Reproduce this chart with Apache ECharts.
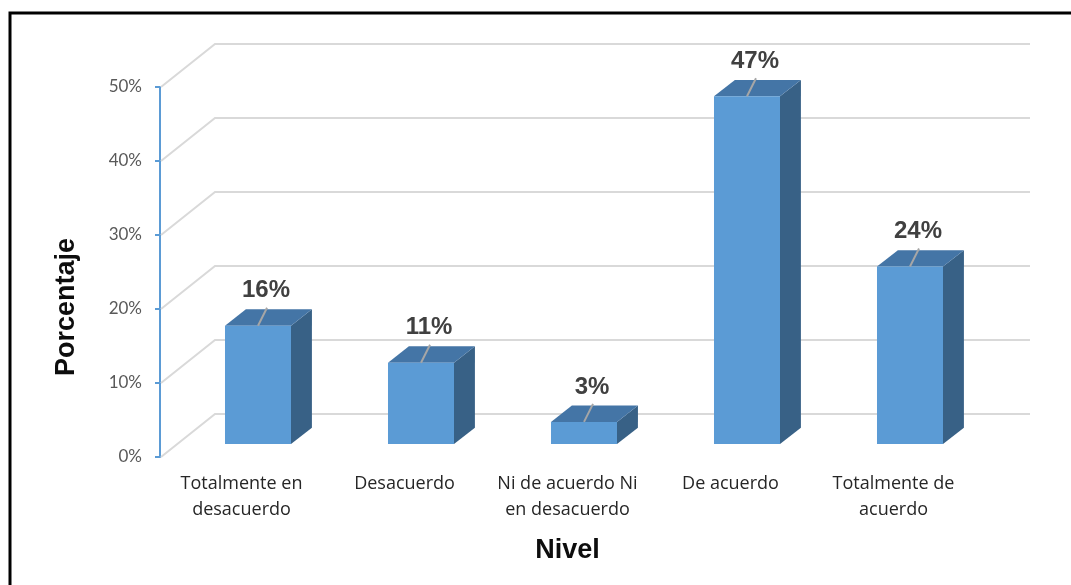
<!DOCTYPE html>
<html>
<head>
<meta charset="utf-8">
<script src="https://cdn.jsdelivr.net/npm/echarts@6/dist/echarts.min.js"></script>
<style>
  html, body { margin: 0; padding: 0; background: #fff; }
  #chart { width: 1071px; height: 585px; }
</style>
</head>
<body>
<div id="chart"></div>
<script>
// Survey response levels and their share of respondents (%)
const categories = [
  'Totalmente en\ndesacuerdo',
  'Desacuerdo',
  'Ni de acuerdo Ni\nen desacuerdo',
  'De acuerdo',
  'Totalmente de\nacuerdo'
];
const percentages = [16, 11, 3, 47, 24];
const gridTicks = [0, 10, 20, 30, 40, 50];

// Oblique 3D look: offset of the back wall and of each column's depth
const WALL_DX = 55, WALL_DY = 43;
const BAR_FRONT = 0.30;   // front face position as a fraction of the wall depth
const BAR_DEPTH = 0.38;   // column depth as a fraction of the wall depth
const BAR_WIDTH = 0.405;  // fraction of a category band

const COLOR_FRONT = '#5b9bd5';
const COLOR_TOP = '#4475a6';
const COLOR_SIDE = '#386186';

const BOLD_FONT = '"Liberation Sans", Arial, sans-serif';

const chart = echarts.init(document.getElementById('chart'));

function renderWall(params, api) {
  const cs = params.coordSys;
  const y = api.coord([0, api.value(0)])[1];
  const x0 = cs.x;
  const x1 = cs.x + cs.width;
  return {
    type: 'polyline',
    shape: { points: [[x0 + 1, y], [x0 + WALL_DX, y - WALL_DY], [x1 + WALL_DX, y - WALL_DY]] },
    style: { stroke: '#d9d9d9', lineWidth: 2, fill: null },
    silent: true
  };
}

function renderColumn(params, api) {
  const idx = api.value(0);
  const val = api.value(1);
  const base = api.coord([idx, 0]);
  const top = api.coord([idx, val]);
  const band = api.size([1, 0])[0];
  const w = band * BAR_WIDTH;
  const fx = WALL_DX * BAR_FRONT, fy = WALL_DY * BAR_FRONT;
  const dx = WALL_DX * BAR_DEPTH, dy = WALL_DY * BAR_DEPTH;
  const cx = base[0] + fx;
  const l = cx - w / 2, r = cx + w / 2;
  const by = base[1] - fy, ty = top[1] - fy;
  return {
    type: 'group',
    children: [
      { type: 'polygon', shape: { points: [[r, ty], [r + dx, ty - dy], [r + dx, by - dy], [r, by]] },
        style: { fill: COLOR_SIDE } },
      { type: 'polygon', shape: { points: [[l, ty], [r, ty], [r + dx, ty - dy], [l + dx, ty - dy]] },
        style: { fill: COLOR_TOP } },
      { type: 'rect', shape: { x: l, y: ty, width: w, height: by - ty },
        style: { fill: COLOR_FRONT } },
      { type: 'line', shape: { x1: cx, y1: ty, x2: cx + 9, y2: ty - 18 },
        style: { stroke: '#a6a6a6', lineWidth: 2 } },
      { type: 'text', x: cx + 8, y: ty - 35,
        style: { text: val + '%', fill: '#404040', font: 'bold 24px ' + BOLD_FONT,
                 align: 'center', verticalAlign: 'middle' } }
    ]
  };
}

chart.setOption({
  animation: false,
  grid: { left: 160, right: 96, top: 87, bottom: 128, containLabel: false },
  graphic: [
    { type: 'rect', shape: { x: 10, y: 13, width: 1200, height: 700 },
      style: { fill: null, stroke: '#000', lineWidth: 3 }, silent: true, z: -10 },
    { type: 'text', x: 67, y: 307, rotation: Math.PI / 2,
      style: { text: 'Porcentaje', fill: '#0d0d0d', font: 'bold 27px ' + BOLD_FONT,
               align: 'center', verticalAlign: 'middle' } }
  ],
  xAxis: {
    type: 'category',
    data: categories,
    name: 'Nivel',
    nameLocation: 'middle',
    nameGap: 80,
    nameTextStyle: { fontSize: 27, fontWeight: 'bold', color: '#0d0d0d', fontFamily: BOLD_FONT },
    axisLine: { show: false },
    axisTick: { show: false },
    axisLabel: { margin: 14, fontSize: 18, lineHeight: 26, color: '#262626', fontFamily: '"Open Sans", Lato, sans-serif', interval: 0 }
  },
  yAxis: {
    type: 'value',
    min: 0, max: 50, interval: 10,
    axisLine: { show: true, lineStyle: { color: '#5b9bd5', width: 2 } },
    axisTick: { show: true, length: 5, lineStyle: { color: '#5b9bd5', width: 2 } },
    splitLine: { show: false },
    axisLabel: { formatter: '{value}%', margin: 18, fontSize: 17, color: '#595959', fontFamily: 'Lato, "Open Sans", sans-serif' }
  },
  series: [
    {
      type: 'custom',
      renderItem: renderWall,
      data: gridTicks.map(v => [v]),
      encode: { y: 0 },
      z: 1,
      silent: true
    },
    {
      type: 'custom',
      renderItem: renderColumn,
      data: percentages.map((v, i) => [i, v]),
      encode: { x: 0, y: 1 },
      z: 5
    }
  ]
});
</script>
</body>
</html>
